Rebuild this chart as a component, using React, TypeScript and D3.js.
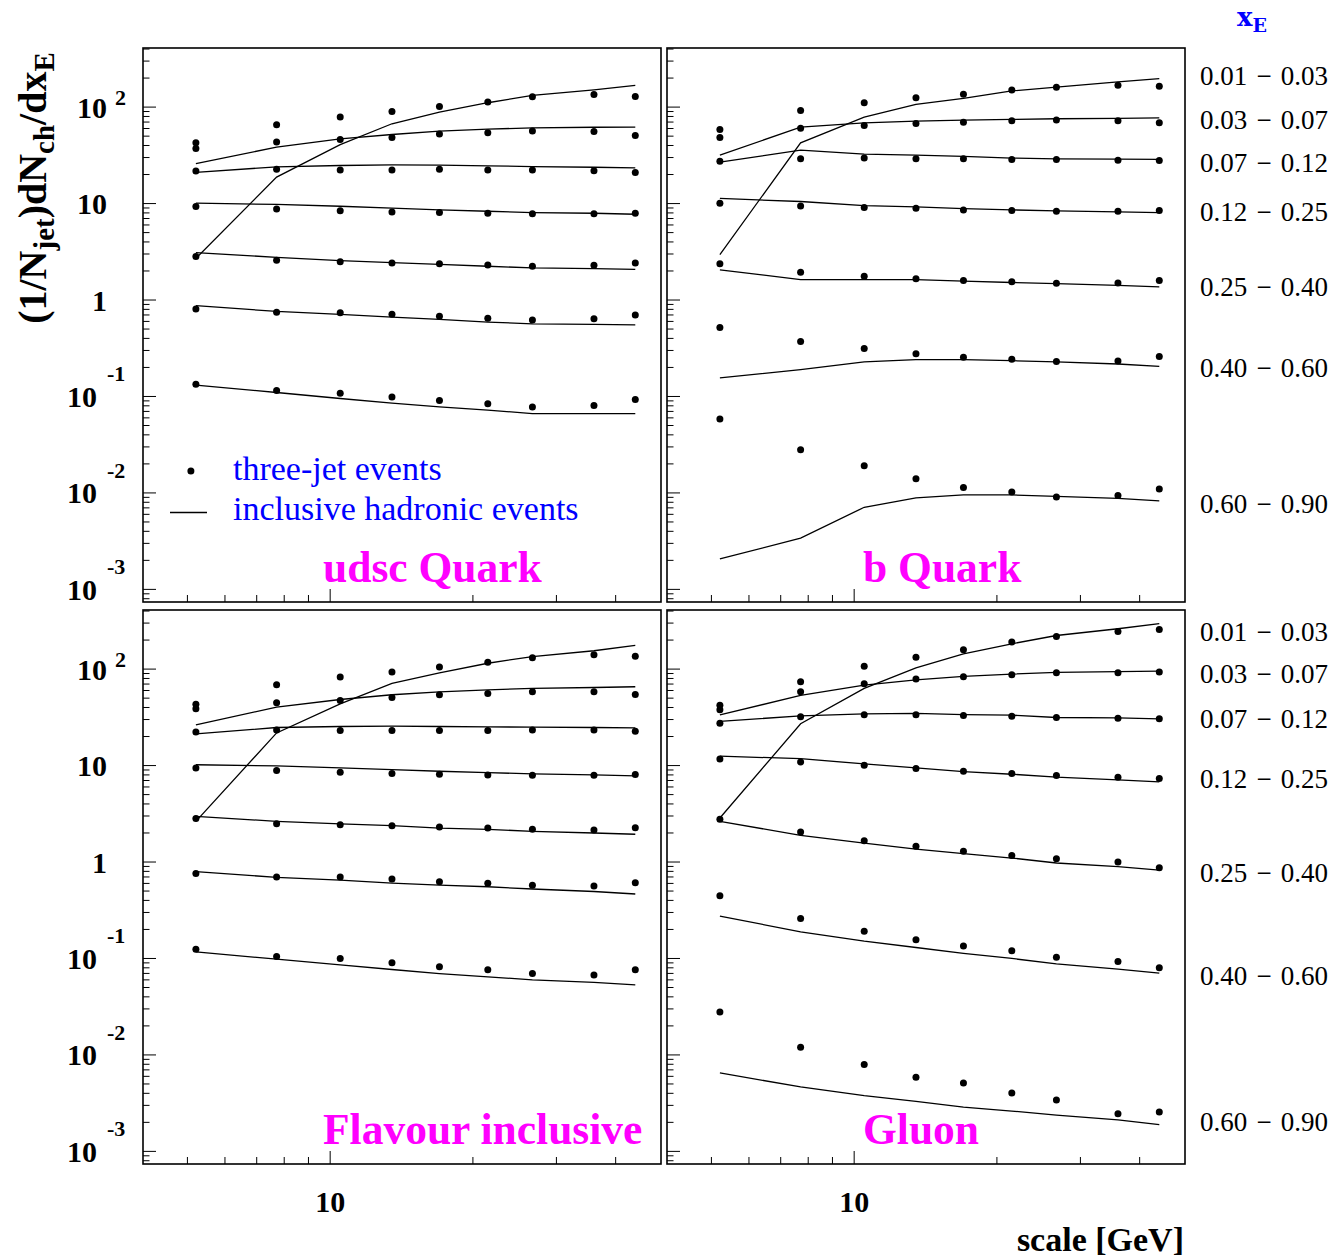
import React from "react";
import * as d3 from "d3";

// ---------- data ----------
const scaleGeV = [5.21, 7.71, 10.5, 13.5, 17.0, 21.5, 26.7, 36.0, 44.0];

const xeBinLow = ["0.01", "0.03", "0.07", "0.12", "0.25", "0.40", "0.60"];
const xeBinHigh = ["0.03", "0.07", "0.12", "0.25", "0.40", "0.60", "0.90"];

// label anchor values (data units) for the xE bin labels at the right
const topLabelAt = [210, 73.5, 26.3, 8.17, 1.36, 0.197, 0.00767];
const bottomLabelAt = [242, 88.9, 30.4, 7.25, 0.769, 0.0658, 0.00202];

const yDecades = [-3, -2, -1, 0, 1, 2];
const xMajorTicks = [10];
const xMinorTicks = [5, 6, 7, 8, 9, 20, 30, 40];

// udsc Quark
const udscJet = [
  [42.6, 65.6, 78.8, 90.1, 101.6, 112.7, 128, 135, 129],
  [37.2, 43.4, 46.1, 48.4, 52.5, 54.2, 56.4, 55.8, 50.8],
  [21.7, 22.7, 22.3, 22.3, 22.7, 22.3, 22.3, 21.9, 21.0],
  [9.3, 8.8, 8.4, 8.2, 8.07, 7.94, 7.82, 7.82, 7.94],
  [2.82, 2.58, 2.5, 2.42, 2.38, 2.31, 2.24, 2.29, 2.42],
  [0.805, 0.745, 0.738, 0.71, 0.68, 0.649, 0.619, 0.639, 0.698],
  [0.134, 0.115, 0.108, 0.099, 0.0909, 0.0839, 0.078, 0.0805, 0.093],
];
const udscIncl = [
  [2.7, 18.8, 40.9, 67.2, 88.8, 111, 132, 151, 168],
  [26, 38.4, 46.9, 52, 56.4, 59.1, 61, 61.8, 62],
  [21.1, 24, 24.8, 25.2, 25.0, 24.6, 24.2, 23.8, 23.4],
  [10.1, 9.8, 9.38, 8.95, 8.6, 8.32, 8.07, 7.94, 7.75],
  [3.1, 2.77, 2.56, 2.44, 2.34, 2.24, 2.15, 2.12, 2.08],
  [0.873, 0.762, 0.71, 0.666, 0.629, 0.591, 0.567, 0.56, 0.553],
  [0.131, 0.11, 0.0953, 0.0853, 0.078, 0.0721, 0.0665, 0.0665, 0.0665],
];

// b Quark
const bJet = [
  [58.6, 92.3, 111, 125, 136, 150, 161, 169, 165],
  [48.4, 60.2, 64.5, 67.7, 69.8, 72.1, 73.3, 72.1, 68.7],
  [27.5, 29.1, 29.6, 29.1, 29.1, 28.7, 28.7, 28.2, 27.9],
  [10.1, 9.46, 9.08, 8.95, 8.6, 8.46, 8.32, 8.32, 8.46],
  [2.37, 1.94, 1.76, 1.66, 1.59, 1.55, 1.49, 1.5, 1.59],
  [0.519, 0.371, 0.314, 0.278, 0.255, 0.243, 0.23, 0.233, 0.259],
  [0.0585, 0.0281, 0.0191, 0.014, 0.0114, 0.0102, 0.0091, 0.0094, 0.011],
];
const bIncl = [
  [2.96, 42.6, 78.8, 107, 123, 147, 161, 183, 197],
  [31.8, 61.9, 68.7, 71.6, 73.3, 74.5, 75.7, 76.5, 77.4],
  [26.9, 35.8, 32.5, 31.8, 30.8, 29.6, 29.1, 28.9, 28.7],
  [11.3, 10.5, 9.5, 9.23, 8.87, 8.6, 8.39, 8.2, 8.07],
  [2.05, 1.63, 1.63, 1.63, 1.57, 1.52, 1.48, 1.42, 1.37],
  [0.156, 0.19, 0.228, 0.241, 0.241, 0.235, 0.228, 0.217, 0.205],
  [0.00207, 0.0034, 0.0071, 0.00887, 0.00953, 0.00953, 0.00923, 0.00879, 0.00826],
];

// Flavour inclusive
const flavJet = [
  [43.3, 68.7, 82.6, 93.1, 105, 118, 131, 141, 136],
  [38.7, 44.8, 47.3, 50.8, 54.2, 55.8, 58.2, 58.2, 54.6],
  [22.3, 23.4, 23.1, 23.1, 23.1, 23.1, 23.4, 23.4, 22.7],
  [9.46, 8.87, 8.53, 8.26, 8.13, 8.0, 7.94, 7.94, 8.07],
  [2.82, 2.5, 2.44, 2.38, 2.31, 2.25, 2.18, 2.15, 2.27],
  [0.762, 0.698, 0.698, 0.667, 0.625, 0.601, 0.573, 0.564, 0.61],
  [0.125, 0.105, 0.1, 0.0902, 0.0819, 0.0762, 0.0698, 0.0676, 0.0762],
];
const flavIncl = [
  [2.64, 21.8, 43.6, 71, 91.6, 115, 135, 155, 176],
  [26.4, 40.4, 48.4, 54.2, 58.2, 61, 63, 64.5, 65.6],
  [21.3, 24.8, 25.4, 25.6, 25.4, 25.2, 25.0, 24.8, 24.6],
  [10.2, 9.93, 9.46, 9.09, 8.73, 8.45, 8.19, 8.0, 7.82],
  [2.98, 2.64, 2.48, 2.38, 2.25, 2.18, 2.08, 2.0, 1.94],
  [0.794, 0.694, 0.65, 0.605, 0.577, 0.554, 0.525, 0.495, 0.466],
  [0.117, 0.0984, 0.0859, 0.0769, 0.0698, 0.0645, 0.0601, 0.0565, 0.0533],
];

// Gluon
const gluonJet = [
  [42.3, 73.9, 107, 133, 159, 191, 218, 246, 258],
  [37.8, 58.2, 70.4, 78.8, 83.2, 87.3, 91.6, 91.6, 93.1],
  [27.5, 32, 33.6, 33.6, 33, 32.5, 31.5, 31, 30.5],
  [11.7, 10.9, 10.1, 9.3, 8.73, 8.26, 7.87, 7.57, 7.33],
  [2.77, 2.05, 1.66, 1.46, 1.29, 1.17, 1.08, 1.0, 0.873],
  [0.448, 0.26, 0.191, 0.156, 0.135, 0.12, 0.103, 0.093, 0.08],
  [0.0279, 0.012, 0.00794, 0.00586, 0.00512, 0.00403, 0.00341, 0.00246, 0.00256],
];
const gluonIncl = [
  [2.86, 27.1, 63, 103, 144, 183, 223, 262, 296],
  [33.6, 53.3, 68.2, 77.4, 83.9, 88.8, 92.3, 94, 95.3],
  [28.7, 32.8, 34.4, 34.7, 33.8, 33.3, 31.5, 31.2, 30.5],
  [12.5, 11.8, 10.4, 9.46, 8.67, 8.13, 7.57, 7.1, 6.76],
  [2.64, 1.89, 1.57, 1.36, 1.22, 1.1, 0.977, 0.895, 0.826],
  [0.275, 0.189, 0.151, 0.13, 0.113, 0.1, 0.0881, 0.0775, 0.0705],
  [0.0065, 0.00466, 0.00378, 0.0033, 0.00288, 0.00262, 0.00238, 0.00212, 0.00189],
];

// ---------- layout ----------
const W = 1339;
const H = 1260;
const panelW = 518;
const panelH = 554;
const colX = [143, 667];
const rowY = [48, 610];
const X_DOMAIN: [number, number] = [4.03, 49.85];
const Y_DOMAIN: [number, number] = [7.4e-4, 410];

const SERIF = "'Liberation Serif', 'Times New Roman', serif";
const BLUE = "#0000ff";
const MAGENTA = "#ff00ff";

type PanelProps = {
  left: number;
  top: number;
  jet: number[][];
  incl: number[][];
  title: string;
  titleX: number;
  yLabels: boolean;
  xLabels: boolean;
  legend?: boolean;
};

function Panel({ left, top, jet, incl, title, titleX, yLabels, xLabels, legend }: PanelProps) {
  const x = d3.scaleLog().domain(X_DOMAIN).range([left, left + panelW]);
  const y = d3.scaleLog().domain(Y_DOMAIN).range([top + panelH, top]);
  const line = d3
    .line<[number, number]>()
    .x((d) => x(d[0]))
    .y((d) => y(d[1]));

  const yTicks: { v: number; major: boolean }[] = [];
  for (let e = -4; e <= 3; e++) {
    for (let k = 1; k <= 9; k++) {
      const v = k * Math.pow(10, e);
      if (v >= Y_DOMAIN[0] && v <= Y_DOMAIN[1]) yTicks.push({ v, major: k === 1 });
    }
  }
  const bottom = top + panelH;

  return (
    <g>
      {/* y ticks */}
      {yTicks.map((t, i) => (
        <line
          key={"yt" + i}
          x1={left}
          x2={left + (t.major ? 13 : 6.5)}
          y1={y(t.v)}
          y2={y(t.v)}
          stroke="#000"
          strokeWidth={1}
        />
      ))}
      {/* x ticks */}
      {xMinorTicks.map((v, i) => (
        <line key={"xm" + i} x1={x(v)} x2={x(v)} y1={bottom} y2={bottom - 7} stroke="#000" strokeWidth={1} />
      ))}
      {xMajorTicks.map((v, i) => (
        <line key={"xM" + i} x1={x(v)} x2={x(v)} y1={bottom} y2={bottom - 13} stroke="#000" strokeWidth={1} />
      ))}

      {/* inclusive lines */}
      {incl.map((s, i) => (
        <path
          key={"l" + i}
          d={line(scaleGeV.map((g, j) => [g, s[j]] as [number, number])) || ""}
          fill="none"
          stroke="#000"
          strokeWidth={1.3}
        />
      ))}
      {/* three-jet points */}
      {jet.map((s, i) =>
        s.map((v, j) => <circle key={"p" + i + "_" + j} cx={x(scaleGeV[j])} cy={y(v)} r={3.5} fill="#000" />)
      )}

      {/* frame */}
      <rect x={left} y={top} width={panelW} height={panelH} fill="none" stroke="#000" strokeWidth={1.6} />

      {/* panel title */}
      <text x={titleX} y={bottom - 20} fontFamily={SERIF} fontWeight="bold" fontSize={43.5} fill={MAGENTA}>
        {title}
      </text>

      {/* y tick labels */}
      {yLabels &&
        yDecades.map((e) => {
          const cy = y(Math.pow(10, e));
          if (e === 0)
            return (
              <text key={"yl" + e} x={107} y={cy + 10.5} textAnchor="end" fontFamily={SERIF} fontWeight="bold" fontSize={30}>
                1
              </text>
            );
          if (e === 1)
            return (
              <text key={"yl" + e} x={107} y={cy + 10.5} textAnchor="end" fontFamily={SERIF} fontWeight="bold" fontSize={30}>
                10
              </text>
            );
          if (e > 1)
            return (
              <g key={"yl" + e}>
                <text x={107} y={cy + 10.5} textAnchor="end" fontFamily={SERIF} fontWeight="bold" fontSize={30}>
                  10
                </text>
                <text x={115} y={cy - 2} textAnchor="start" fontFamily={SERIF} fontWeight="bold" fontSize={22}>
                  {String(e)}
                </text>
              </g>
            );
          return (
            <g key={"yl" + e}>
              <text x={97} y={cy + 10.5} textAnchor="end" fontFamily={SERIF} fontWeight="bold" fontSize={30}>
                10
              </text>
              <text x={107} y={cy - 15} textAnchor="start" fontFamily={SERIF} fontWeight="bold" fontSize={22}>
                {"-" + String(-e)}
              </text>
            </g>
          );
        })}

      {/* x tick labels */}
      {xLabels &&
        xMajorTicks.map((v) => (
          <text key={"xl" + v} x={x(v)} y={bottom + 48} textAnchor="middle" fontFamily={SERIF} fontWeight="bold" fontSize={30}>
            {String(v)}
          </text>
        ))}

      {legend && (
        <g>
          <circle cx={x(scaleGeV[0]) - 5} cy={471} r={3.5} fill="#000" />
          <line x1={170} x2={207} y1={512.5} y2={512.5} stroke="#000" strokeWidth={1.3} />
          <text x={233} y={480} fontFamily={SERIF} fontSize={34} fill={BLUE}>
            three-jet events
          </text>
          <text x={233} y={520} fontFamily={SERIF} fontSize={34} fill={BLUE}>
            inclusive hadronic events
          </text>
        </g>
      )}
    </g>
  );
}

function BinLabels({ top, values }: { top: number; values: number[] }) {
  const y = d3.scaleLog().domain(Y_DOMAIN).range([top + panelH, top]);
  return (
    <g fontFamily={SERIF} fontSize={27} fill="#000">
      {values.map((v, i) => {
        const cy = y(v) + 9;
        return (
          <g key={"bl" + i}>
            <text x={1200} y={cy} textAnchor="start">
              {xeBinLow[i]}
            </text>
            <text x={1264} y={cy} textAnchor="middle">
              {"\u2212"}
            </text>
            <text x={1328} y={cy} textAnchor="end">
              {xeBinHigh[i]}
            </text>
          </g>
        );
      })}
    </g>
  );
}

export default function App() {
  return (
    <svg
      width={W}
      height={H}
      viewBox={`0 0 ${W} ${H}`}
      style={{ position: "absolute", left: 0, top: 0, background: "#fff" }}
    >
      <rect x={0} y={0} width={W} height={H} fill="#fff" />

      <Panel left={colX[0]} top={rowY[0]} jet={udscJet} incl={udscIncl} title="udsc Quark" titleX={323} yLabels xLabels={false} legend />
      <Panel left={colX[1]} top={rowY[0]} jet={bJet} incl={bIncl} title="b Quark" titleX={863} yLabels={false} xLabels={false} />
      <Panel left={colX[0]} top={rowY[1]} jet={flavJet} incl={flavIncl} title="Flavour inclusive" titleX={323} yLabels xLabels />
      <Panel left={colX[1]} top={rowY[1]} jet={gluonJet} incl={gluonIncl} title="Gluon" titleX={863} yLabels={false} xLabels />

      <BinLabels top={rowY[0]} values={topLabelAt} />
      <BinLabels top={rowY[1]} values={bottomLabelAt} />

      {/* xE header */}
      <text x={1237} y={26} fontFamily="'DejaVu Serif', serif" fontWeight="bold" fontSize={26} fill={BLUE}>
        x
        <tspan dy={6} fontSize={19}>
          E
        </tspan>
      </text>

      {/* y axis title */}
      <text
        transform="translate(46,188) rotate(-90)"
        textAnchor="middle"
        fontFamily={SERIF}
        fontWeight="bold"
        fontSize={40}
        fill="#000"
      >
        (1/N
        <tspan dy={8} fontSize={29}>
          jet
        </tspan>
        <tspan dy={-8}>)dN</tspan>
        <tspan dy={8} fontSize={29}>
          ch
        </tspan>
        <tspan dy={-8}>/dx</tspan>
        <tspan dy={8} fontSize={29}>
          E
        </tspan>
      </text>

      {/* x axis title */}
      <text x={1184} y={1251} textAnchor="end" fontFamily={SERIF} fontWeight="bold" fontSize={34} fill="#000">
        scale [GeV]
      </text>
    </svg>
  );
}
